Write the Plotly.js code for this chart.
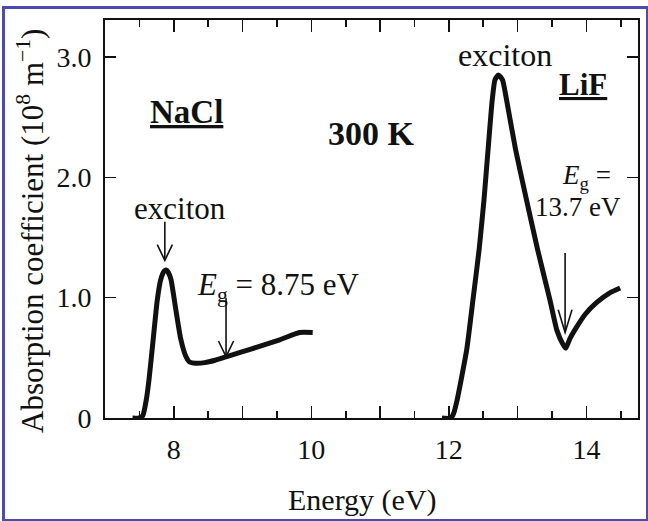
<!DOCTYPE html>
<html>
<head>
<meta charset="utf-8">
<script src="https://cdn.plot.ly/plotly-3.0.1.min.js"></script>
<style>
  html, body { margin: 0; padding: 0; background: #fff; }
  #wrap { position: relative; width: 648px; height: 521px; }
  #chart { position: absolute; left: 0; top: 0; width: 648px; height: 521px; }
  #frame { position: absolute; left: 2px; top: 6px; width: 641px; height: 510px;
           border: 3px solid #4a4cb0; pointer-events: none; }
</style>
</head>
<body>
<div id="wrap"><div id="chart"></div><div id="frame"></div></div>
<script>
// NaCl absorption (energy eV, coefficient 1e8 m^-1)
const naclEnergy = [7.40, 7.50, 7.55, 7.60, 7.64, 7.70, 7.76, 7.81, 7.86, 7.89, 7.92, 7.96, 8.03, 8.10, 8.17, 8.23, 8.32, 8.45, 8.60, 8.77, 9.11, 9.54, 9.83, 10.02];
const naclAbs    = [0.00, 0.00, 0.02, 0.15, 0.32, 0.65, 0.98, 1.15, 1.22, 1.23, 1.21, 1.15, 0.90, 0.66, 0.52, 0.465, 0.455, 0.46, 0.48, 0.51, 0.57, 0.65, 0.71, 0.71];
// LiF absorption
const lifEnergy = [11.90, 12.03, 12.07, 12.12, 12.26, 12.35, 12.44, 12.51, 12.57, 12.63, 12.67, 12.72, 12.78, 12.84, 12.97, 13.13, 13.29, 13.47, 13.57, 13.66, 13.70, 13.76, 13.83, 13.98, 14.15, 14.34, 14.49];
const lifAbs    = [0.00, 0.00, 0.04, 0.15, 0.57, 0.98, 1.40, 1.81, 2.23, 2.64, 2.81, 2.85, 2.81, 2.64, 2.23, 1.81, 1.40, 0.98, 0.73, 0.61, 0.58, 0.66, 0.73, 0.86, 0.96, 1.04, 1.08];

// axis ticks
const xLabelVals = [8, 10, 12, 14];
const xLabelText = ['8', '10', '12', '14'];
const xOddVals = [7, 9, 11, 13];
const yTickVals = [0, 1, 2, 3];
const yTickText = ['0', '1.0', '2.0', '3.0'];

// axis titles
const xTitle = 'Energy (eV)';
const yTitle = 'Absorption coefficient (10<sup>8</sup> m<sup>−1</sup>)';

// labels
const labelText = ['<span style="text-decoration:underline">NaCl</span>', '300 K', '<span style="text-decoration:underline">LiF</span>',
                   'exciton', 'exciton', '<i>E</i><sub>g</sub> = 8.75 eV', '<i>E</i><sub>g</sub> =', '13.7 eV'];
const labelX = [8.19, 10.88, 13.95, 8.09, 12.81, 8.31, 14.0, 13.88];
const labelY = [2.54, 2.36, 2.77, 1.74, 3.02, 1.09, 2.0, 1.75];
const labelAnchor = ['center', 'center', 'center', 'center', 'center', 'left', 'center', 'center'];
const labelBold = [true, true, true, false, false, false, false, false];
const labelSize = [33, 34, 31, 31, 32, 31, 27, 27];

// arrows: x, start y, tip y
const arrowX = [7.87, 8.76, 13.69];
const arrowY0 = [1.63, 1.00, 1.37];
const arrowY1 = [1.31, 0.51, 0.71];
const arrowHW = [0.11, 0.11, 0.10];
const arrowHH = [0.13, 0.13, 0.19];

const font = "'Liberation Serif', 'Times New Roman', 'DejaVu Serif', serif";

const W = 648, H = 521, M = { l: 105, r: 10, t: 20, b: 103 };
const pw = W - M.l - M.r, ph = H - M.t - M.b;
const paperX = px => (px - M.l) / pw;
const paperY = py => (H - M.b - py) / ph;

const traces = [
  { x: naclEnergy, y: naclAbs, mode: 'lines', line: { color: '#111', width: 5, shape: 'spline', smoothing: 0.5 }, hoverinfo: 'skip' },
  { x: lifEnergy, y: lifAbs, mode: 'lines', line: { color: '#111', width: 5, shape: 'spline', smoothing: 0.5 }, hoverinfo: 'skip' },
  { x: [], y: [], xaxis: 'x2', yaxis: 'y', hoverinfo: 'skip' }
];

const annotations = labelText.map((t, i) => ({
  x: labelX[i], y: labelY[i], xref: 'x', yref: 'y', showarrow: false,
  text: labelBold[i] ? '<b>' + t + '</b>' : t,
  xanchor: labelAnchor[i], yanchor: 'middle',
  font: { family: font, size: labelSize[i], color: '#111' }
}));
annotations.push({ text: xTitle, xref: 'paper', yref: 'paper', x: paperX(362), y: paperY(500),
  xanchor: 'center', yanchor: 'middle', showarrow: false, font: { family: font, size: 30, color: '#111' } });
annotations.push({ text: yTitle, xref: 'paper', yref: 'paper', x: paperX(30), y: paperY(231), textangle: -90,
  xanchor: 'center', yanchor: 'middle', showarrow: false, font: { family: font, size: 31, color: '#111' } });

const shapes = [];
arrowX.forEach((x, i) => {
  shapes.push({ type: 'line', xref: 'x', yref: 'y', x0: x, x1: x, y0: arrowY0[i], y1: arrowY1[i], line: { color: '#111', width: 1.6 } });
  shapes.push({ type: 'path', xref: 'x', yref: 'y',
    path: `M ${x - arrowHW[i]} ${arrowY1[i] + arrowHH[i]} L ${x} ${arrowY1[i]} L ${x + arrowHW[i]} ${arrowY1[i] + arrowHH[i]}`,
    line: { color: '#111', width: 1.6 } });
});

const layout = {
  width: W, height: H,
  margin: M,
  paper_bgcolor: '#fff', plot_bgcolor: '#fff',
  showlegend: false,
  font: { family: font, color: '#111', size: 28 },
  xaxis: {
    range: [7, 14.75], showgrid: false, zeroline: false,
    showline: true, linecolor: '#111', linewidth: 2, mirror: 'ticks',
    ticks: 'inside', ticklen: 12, tickwidth: 1.6, tickcolor: '#111',
    tickvals: xLabelVals, ticktext: xLabelText, ticklabelstandoff: 5,
    minor: { dtick: 0.5, tick0: 7, ticks: 'inside', ticklen: 7, tickwidth: 1.6, tickcolor: '#111' },
    tickfont: { family: font, size: 28, color: '#111' }
  },
  xaxis2: {
    overlaying: 'x', anchor: 'y', side: 'bottom', matches: 'x',
    range: [7, 14.75], showgrid: false, zeroline: false, showline: false, mirror: 'ticks',
    ticks: 'inside', ticklen: 12, tickwidth: 1.6, tickcolor: '#111',
    tickvals: xOddVals, showticklabels: false
  },
  yaxis: {
    range: [0, 3.307], showgrid: false, zeroline: false,
    showline: true, linecolor: '#111', linewidth: 2, mirror: 'ticks',
    ticks: 'inside', ticklen: 11, tickwidth: 1.6, tickcolor: '#111',
    tickvals: yTickVals, ticktext: yTickText, ticklabelstandoff: 6,
    tickfont: { family: font, size: 28, color: '#111' }
  },
  annotations: annotations,
  shapes: shapes
};

Plotly.newPlot('chart', traces, layout, { displayModeBar: false, staticPlot: true });
</script>
</body>
</html>
